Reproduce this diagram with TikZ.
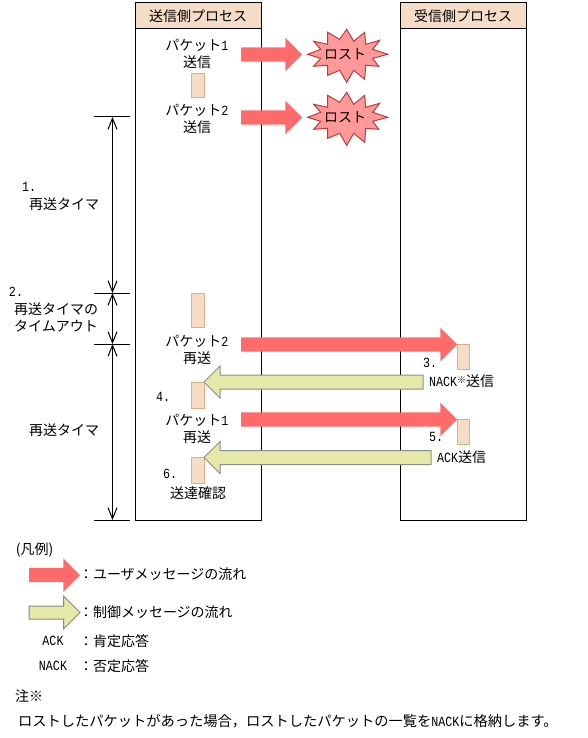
\documentclass[tikz,border=0pt]{standalone}
\usepackage{fontspec}
\setmainfont{Noto Sans CJK JP}
\newfontfamily\latfont[FakeStretch=0.835]{Liberation Mono}
\newcommand{\lat}[1]{{\fontsize{14}{17}\latfont #1}}
\usetikzlibrary{arrows.meta,shapes.arrows}
\definecolor{ink}{HTML}{000000}
\definecolor{skin}{HTML}{F5DCC6}
\definecolor{skinline}{HTML}{DFAE82}
\definecolor{userred}{HTML}{FF6B6B}
\definecolor{ctrlgreen}{HTML}{E6E8A8}
\definecolor{ctrlline}{HTML}{8C8C8C}
\definecolor{burstfill}{HTML}{FF9999}
\definecolor{burstline}{HTML}{C03A3A}

\begin{document}
\begin{tikzpicture}[
    x=1pt, y=-1pt,
    line cap=butt, line join=miter,
    txt/.style={inner sep=0pt, outer sep=0pt, align=center, font=\fontsize{14}{17}\selectfont},
    lifebox/.style={ink, line width=1pt},
    header/.style={txt, draw=ink, fill=skin, line width=1pt, anchor=north west,
        minimum width=126pt, minimum height=26pt},
    msgbox/.style={draw=skinline, fill=skin, line width=1pt},
    userflow/.style={single arrow, fill=userred, inner sep=0pt, inner ysep=7pt, outer sep=0pt,
        single arrow head extend=9.5pt, single arrow tip angle=90, anchor=tip},
    ctrlflow/.style={single arrow, draw=ctrlline, fill=ctrlgreen, line width=1pt, inner sep=0pt,
        inner ysep=6.5pt, outer sep=0pt, single arrow head extend=9pt, single arrow tip angle=90,
        anchor=tip},
    tick/.style={ink, line width=1pt},
    timer/.style={ink, line width=1pt, {Straight Barb[length=11pt,width=9pt]}-{Straight Barb[length=11pt,width=9pt]}},
    lostburst/.pic={
        \draw[burstline, fill=burstfill, line width=1pt]
            (-39,0) -- (-26,-5) -- (-33,-13) -- (-19,-10) -- (-19,-22) -- (-7,-15) -- (0,-25)
            -- (7,-13) -- (18,-22) -- (19,-10) -- (33,-14) -- (26,-5) -- (41,0) -- (26,4)
            -- (32,12) -- (19,11) -- (18,25) -- (7,16) -- (0,28) -- (-7,16) -- (-19,21)
            -- (-19,11) -- (-33,12) -- (-26,4) -- cycle;
    },
]
\useasboundingbox (0,0) rectangle (587,738);

% Process columns
\draw[lifebox] (135,29) rectangle (261,520);
\draw[lifebox] (400,29) rectangle (526,520);
\node[header] (sender) at (135,3) {送信側プロセス};
\node[header] (receiver) at (400,3) {受信側プロセス};

% Retransmission timer ticks and spans
\foreach \y/\name in {117/t0,293/t1,344/t2,520/t3} {
    \draw[tick] (94,\y) -- (130,\y);
    \coordinate (\name) at (112.5,\y);
}
\draw[timer] (t0) -- (t1);
\draw[timer] (t1) -- (t2);
\draw[timer] (t2) -- (t3);
\node[txt, anchor=west] (num1) at (22,187) {\lat{1.}};
\node[txt] (timer1) at (64,204) {再送タイマ};
\node[txt, anchor=west] (num2) at (9,292) {\lat{2.}};
\node[txt] (timeout) at (56,317.5) {再送タイマの\\タイムアウト};
\node[txt] (timer2) at (64,430) {再送タイマ};

% Message boxes
\draw[msgbox] (191.5,73.5) rectangle (204.5,98);
\draw[msgbox] (191.5,293.5) rectangle (204.5,327);
\draw[msgbox] (191.5,382.5) rectangle (204.5,408);
\draw[msgbox] (191.5,457.5) rectangle (204.5,483);
\draw[msgbox] (457,344.5) rectangle (469.5,369);
\draw[msgbox] (457,419.5) rectangle (469.5,444);

% Sender labels
\node[txt] (send1) at (197,53.5) {パケット\lat{1}\\送信};
\node[txt] (send2) at (197,118.5) {パケット\lat{2}\\送信};
\node[txt] (resend2) at (197,349.5) {パケット\lat{2}\\再送};
\node[txt] (resend1) at (197,428.5) {パケット\lat{1}\\再送};
\node[txt] (confirm) at (198,493) {送達確認};

% Lost packets
\node[userflow, minimum height=61pt] (lostflow1) at (302,54.5) {};
\node[userflow, minimum height=61pt] (lostflow2) at (302,117.5) {};
\pic at (346.7,54.3) {lostburst};
\pic at (346.7,117.3) {lostburst};
\node[txt] (lost1) at (345,54) {ロスト};
\node[txt] (lost2) at (345,117) {ロスト};

% Retransmitted packets and replies
\node[userflow, minimum height=216pt] (userflow2) at (457,344.5) {};
\node[userflow, minimum height=216pt] (userflow1) at (457,419.5) {};
\node[ctrlflow, shape border rotate=180, minimum height=219pt] (nackflow) at (204,382) {};
\node[ctrlflow, shape border rotate=180, minimum height=227pt] (ackflow) at (204,457.5) {};

% Step labels
\node[txt, anchor=west] (num3) at (423,363) {\lat{3.}};
\node[txt, anchor=west] (nack) at (429,381) {\lat{NACK}{\fontsize{9}{9}\selectfont\raisebox{3pt}{※}}送信};
\node[txt, anchor=west] (num4) at (156,397) {\lat{4.}};
\node[txt, anchor=west] (num5) at (429,437) {\lat{5.}};
\node[txt, anchor=west] (ack) at (437,457) {\lat{ACK}送信};
\node[txt, anchor=west] (num6) at (163,474) {\lat{6.}};

% Legend
\node[txt, anchor=west] (legend) at (16,550) {(凡例)};
\node[userflow, minimum height=51pt] (keyuser) at (80,575) {};
\node[ctrlflow, minimum height=51pt, single arrow head extend=10pt, inner ysep=6pt] (keyctrl) at (80,612.5) {};
\node[txt, anchor=west] (keyusertext) at (79,574) {：ユーザメッセージの流れ};
\node[txt, anchor=west] (keyctrltext) at (79,612) {：制御メッセージの流れ};
\node[txt] (keyack) at (53,641) {\lat{ACK}};
\node[txt, anchor=west] (keyacktext) at (79,641) {：肯定応答};
\node[txt] (keynack) at (53,666) {\lat{NACK}};
\node[txt, anchor=west] (keynacktext) at (79,666) {：否定応答};

% Note
\node[txt, anchor=west] (notemark) at (15,696) {注※};
\node[txt, anchor=west, font=\fontsize{14.25}{17}\selectfont] (notetext) at (18,721) {ロストしたパケットがあった場合，ロストしたパケットの一覧を\lat{NACK}に格納します。};

\end{tikzpicture}
\end{document}
